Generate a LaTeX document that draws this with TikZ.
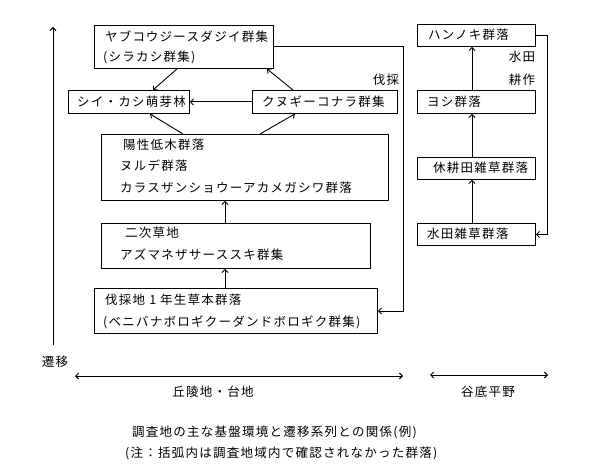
\documentclass[tikz,border=0pt]{standalone}
\usepackage{fontspec}
\setmainfont[LetterSpace=10]{Noto Sans CJK JP}
\usetikzlibrary{arrows.meta}
\begin{document}
\begin{tikzpicture}[x=1pt,y=-1pt,
  box/.style={draw,line width=0.9pt,inner sep=0pt,anchor=north west},
  txt/.style={anchor=west,inner sep=0pt,font=\fontsize{12.5}{14}\selectfont},
  lbl/.style={anchor=center,inner sep=0pt,font=\fontsize{12.5}{14}\selectfont},
  arr/.style={line width=0.9pt,-{Straight Barb[length=3pt,width=6pt]}},
  darr/.style={line width=0.9pt,{Straight Barb[length=3pt,width=6pt]}-{Straight Barb[length=3pt,width=6pt]}}]
\useasboundingbox (0,0) rectangle (599,473);
% boxes
\node[box,minimum width=179,minimum height=43] (A) at (94,25) {};
\node[box,minimum width=121,minimum height=23] (B) at (68,90) {};
\node[box,minimum width=145,minimum height=23] (C) at (252,90) {};
\node[box,minimum width=287,minimum height=66] (D) at (101,134) {};
\node[box,minimum width=269,minimum height=45] (E) at (101,223) {};
\node[box,minimum width=283,minimum height=45] (F) at (94,288) {};
\node[box,minimum width=118,minimum height=22] (G) at (417,24) {};
\node[box,minimum width=118,minimum height=23] (H) at (417,90) {};
\node[box,minimum width=118,minimum height=22] (I) at (417,157) {};
\node[box,minimum width=118,minimum height=22] (J) at (417,223) {};
% texts
\node[txt] (a1) at (105,37) {ヤブコウジースダジイ群集};
\node[txt] (a2) at (103,57) {(シラカシ群集)};
\node[txt] (b1) at (77,101.5) {シイ・カシ萌芽林};
\node[txt] (c1) at (262,101.5) {クヌギーコナラ群集};
\node[txt] (d1) at (123,145) {陽性低木群落};
\node[txt] (d2) at (120,166) {ヌルデ群落};
\node[txt] (d3) at (120,188) {カラスザンショウーアカメガシワ群落};
\node[txt] (e1) at (125,233) {二次草地};
\node[txt] (e2) at (120,255) {アズマネザサーススキ群集};
\node[txt] (f1) at (105,300) {伐採地 1 年生草本群落};
\node[txt] (f2) at (103,322) {(ベニバナボロギクーダンドボロギク群集)};
\node[txt] (g1) at (428,35) {ハンノキ群落};
\node[txt] (h1) at (427,101.5) {ヨシ群落};
\node[txt] (i1) at (433,168) {休耕田雑草群落};
\node[txt] (j1) at (427,234) {水田雑草群落};
\node[lbl] (l1) at (386,80) {伐採};
\node[lbl] (l2) at (522,57) {水田};
\node[lbl] (l3) at (522,80) {耕作};
\node[lbl] (l4) at (55,362) {遷移};
\node[lbl] (l5) at (213,392) {丘陵地・台地};
\node[lbl] (l6) at (488,392) {谷底平野};
\node[txt] (cap1) at (132,432) {調査地の主な基盤環境と遷移系列との関係(例)};
\node[txt] (cap2) at (125,453) {(注：括弧内は調査地域内で確認されなかった群落)};
% coordinates
\coordinate (ax0) at (53,345);
\coordinate (ax1) at (53,27);
\coordinate (h0) at (75,376);
\coordinate (h1) at (403,376);
\coordinate (v0) at (430,375);
\coordinate (v1) at (548,375);
\coordinate (xr) at (403,0);
\coordinate (xr2) at (547,0);
% connectors
\draw[arr] ([xshift=83pt]A.south west) -- ([xshift=85pt]B.north west);
\draw[arr] ([xshift=41pt]C.north west) -- ([xshift=173pt]A.south west);
\draw[arr] (C.west) -- (B.east);
\draw[arr] ([xshift=82pt]D.north west) -- ([xshift=82pt]B.south west);
\draw[arr] ([xshift=159pt]D.north west) -- ([xshift=43pt]C.south west);
\draw[arr] ([xshift=124pt]E.north west) -- ([xshift=124pt]D.south west);
\draw[arr] ([xshift=131pt]F.north west) -- ([xshift=124pt]E.south west);
\draw[arr] (A.east) -- (A.east -| xr) |- (F.east);
\draw[arr] (G.east) -- (G.east -| xr2) |- (J.east);
\draw[arr] ([xshift=55pt]J.north west) -- ([xshift=55pt]I.south west);
\draw[arr] ([xshift=55pt]I.north west) -- ([xshift=55pt]H.south west);
\draw[arr] ([xshift=55pt]H.north west) -- ([xshift=55pt]G.south west);
\draw[arr] (ax0) -- (ax1);
\draw[darr] (h0) -- (h1);
\draw[darr] (v0) -- (v1);
\end{tikzpicture}
\end{document}
